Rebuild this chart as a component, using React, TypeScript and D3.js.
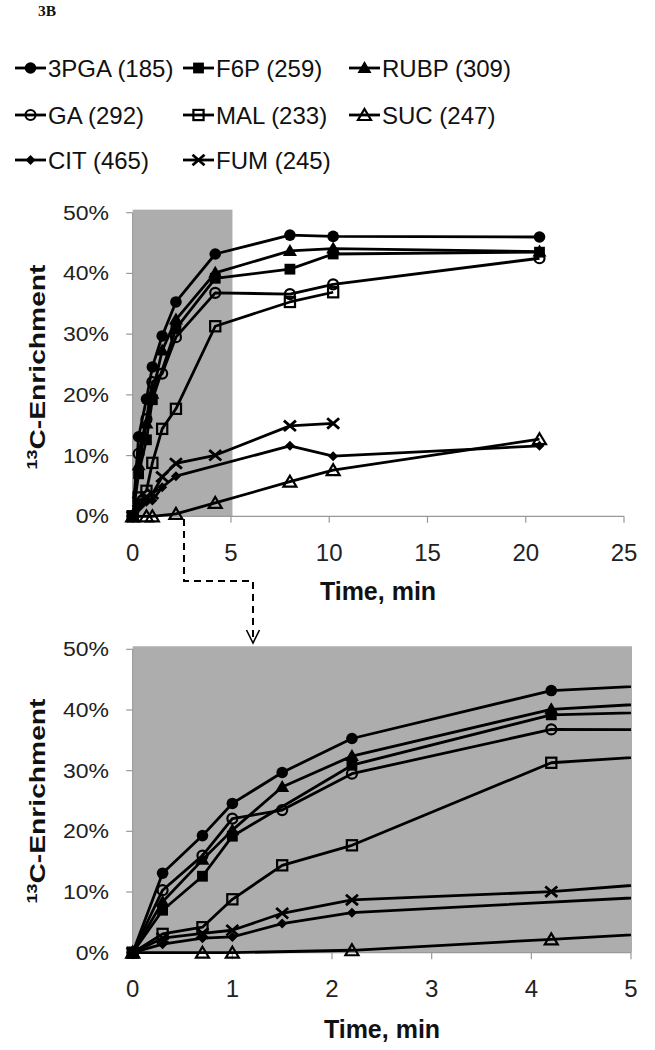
import React from "react";
import * as d3 from "d3";

const times = [0, 0.3, 0.7, 1.0, 1.5, 2.2, 4.2, 8, 10.2, 20.7];
const pga3 = [0, 13.1, 19.3, 24.6, 29.7, 35.3, 43.2, 46.3, 46.1, 46.0];
const f6p = [0, 7.0, 12.6, 19.2, null, 30.9, 39.2, 40.7, 43.2, 43.5];
const rubp = [0, 8.4, 15.3, 20.2, 27.3, 32.4, 40.1, 43.7, 44.1, 43.6];
const ga = [0, 10.3, 16.0, 22.1, 23.5, 29.5, 36.8, 36.6, 38.2, 42.5];
const mal = [0, 3.1, 4.2, 8.8, 14.4, 17.7, 31.3, 35.3, 36.9, null];
const suc = [0, null, 0, 0, null, 0.4, 2.2, 5.7, 7.6, 12.7];
const cit = [0, 1.4, 2.4, 2.6, 4.8, 6.6, null, 11.6, 9.9, 11.6];
const fum = [0, 2.4, 3.2, 3.7, 6.5, 8.7, 10.05, 14.9, 15.3, null];

const seriesNames = ["3PGA (185)", "F6P (259)", "RUBP (309)", "GA (292)", "MAL (233)", "SUC (247)", "CIT (465)", "FUM (245)"];
const seriesValues = [pga3, f6p, rubp, ga, mal, suc, cit, fum];
const seriesMarkers = ["circleF", "squareF", "triF", "circleO", "squareO", "triO", "diamond", "x"];

const yTicks = [0, 10, 20, 30, 40, 50];
const xTicksTop = [0, 5, 10, 15, 20, 25];
const xTicksBot = [0, 1, 2, 3, 4, 5];

const FONT = "'Liberation Sans', Arial, sans-serif";
const GRAY_BG = "#adadad";
const AXIS = "#999";

function Marker({ type, x, y }: { type: string; x: number; y: number }) {
  switch (type) {
    case "circleF":
      return <circle cx={x} cy={y} r={5.8} fill="#000" />;
    case "circleO":
      return <circle cx={x} cy={y} r={5} fill="none" stroke="#000" strokeWidth={2.2} />;
    case "squareF":
      return <rect x={x - 5.4} y={y - 5.4} width={10.8} height={10.8} fill="#000" />;
    case "squareO":
      return <rect x={x - 5.1} y={y - 5.1} width={10.2} height={10.2} fill="none" stroke="#000" strokeWidth={2.2} />;
    case "triF":
      return <path d={`M${x},${y - 7}L${x + 7},${y + 5}L${x - 7},${y + 5}Z`} fill="#000" />;
    case "triO":
      return <path d={`M${x},${y - 6}L${x + 6.5},${y + 5}L${x - 6.5},${y + 5}Z`} fill="none" stroke="#000" strokeWidth={2.2} strokeLinejoin="miter" />;
    case "diamond":
      return <path d={`M${x},${y - 5}L${x + 5},${y}L${x},${y + 5}L${x - 5},${y}Z`} fill="#000" />;
    case "x":
      return (
        <path d={`M${x - 6},${y - 5.2}L${x + 6},${y + 5.2}M${x - 6},${y + 5.2}L${x + 6},${y - 5.2}`} stroke="#000" strokeWidth={2.8} fill="none" />
      );
  }
  return null;
}

function YTickLabel({ x, y, label }: { x: number; y: number; label: string }) {
  const fs = 19.5;
  const digits = label.length - 1;
  const natural = (digits * 0.556 + 0.889) * fs;
  return (
    <text x={x} y={y + 7} fontSize={fs} fontFamily={FONT} textAnchor="end" fill="#222" textLength={natural * 1.18} lengthAdjust="spacingAndGlyphs">
      {label}
    </text>
  );
}

function YTitle({ x, y }: { x: number; y: number }) {
  return (
    <text transform={`translate(${x},${y}) rotate(-90)`} fontFamily={FONT} fontWeight="bold" fontSize={22} textAnchor="middle" fill="#111" textLength={205} lengthAdjust="spacingAndGlyphs">
      <tspan fontSize={14} dy={-8}>13</tspan>
      <tspan dy={8}>C-Enrichment</tspan>
    </text>
  );
}

function Chart({ x, y, xTicks, bg, clipId, xMax, gray }: any) {
  const pts = (vals: (number | null)[]) =>
    times.map((t, i) => ({ t, v: vals[i] })).filter((p) => p.v !== null && p.v !== undefined) as { t: number; v: number }[];
  const line = d3.line<{ t: number; v: number }>().x((p) => x(p.t)).y((p) => y(p.v));
  const [x0, x1] = x.range();
  const y0 = y(0);
  const yTop = y(50.5);
  return (
    <g>
      {bg && <rect x={x0} y={yTop} width={x(xMax) - x0 + 1} height={y0 - yTop} fill={GRAY_BG} />}
      {gray && <rect x={x0} y={yTop} width={x(gray) - x0 + 1.5} height={y0 - yTop} fill={GRAY_BG} />}
      <defs>
        <clipPath id={clipId}>
          <rect x={x0} y={yTop - 2} width={x(xMax) - x0} height={y0 - yTop + 4} />
        </clipPath>
      </defs>
      <line x1={x0} x2={x0} y1={y(50)} y2={y0} stroke={AXIS} strokeWidth={1.2} />
      <line x1={x0} x2={x1} y1={y0} y2={y0} stroke={AXIS} strokeWidth={1.2} />
      {yTicks.map((t) => (
        <g key={"y" + t}>
          <line x1={x0 - 6.5} x2={x0} y1={y(t)} y2={y(t)} stroke={AXIS} strokeWidth={1.2} />
          <YTickLabel x={109} y={y(t)} label={`${t}%`} />
        </g>
      ))}
      {xTicks.map((t: number) => (
        <g key={"x" + t}>
          <line x1={x(t)} x2={x(t)} y1={y0} y2={y0 + 6.5} stroke={AXIS} strokeWidth={1.2} />
          <text x={x(t)} y={y0 + 44.5} fontSize={24} fontFamily={FONT} textAnchor="middle" fill="#222">
            {t}
          </text>
        </g>
      ))}
      <g clipPath={`url(#${clipId})`}>
        {seriesValues.map((vals, i) => (
          <path key={"l" + i} d={line(pts(vals)) || ""} fill="none" stroke="#000" strokeWidth={2.8} strokeLinejoin="round" />
        ))}
      </g>
      {seriesValues.map((vals, i) =>
        pts(vals)
          .filter((p) => p.t <= xMax)
          .map((p, j) => <Marker key={`m${i}-${j}`} type={seriesMarkers[i]} x={x(p.t)} y={y(p.v)} />)
      )}
    </g>
  );
}

export default function App() {
  const xTop = d3.scaleLinear().domain([0, 25]).range([132.7, 624]);
  const yTopS = d3.scaleLinear().domain([0, 50]).range([516.3, 212.7]);
  const xBot = d3.scaleLinear().domain([0, 5]).range([132.7, 631]);
  const yBot = d3.scaleLinear().domain([0, 50]).range([952.7, 649.3]);

  const legendCols = [15, 183, 349];
  const legendRows = [68, 115, 160];

  return (
    <svg width={655} height={1050} style={{ position: "absolute", left: 0, top: 0, background: "#fff" }}>
      <rect width={655} height={1050} fill="#fff" />
      <text x={38} y={16} fontFamily="'Liberation Serif', 'Times New Roman', serif" fontWeight="bold" fontSize={15.5} fill="#111">
        3B
      </text>
      {seriesNames.map((name, i) => {
        const cx = legendCols[i % 3];
        const cy = legendRows[Math.floor(i / 3)];
        return (
          <g key={"lg" + i}>
            <line x1={cx} x2={cx + 31} y1={cy} y2={cy} stroke="#000" strokeWidth={2.8} />
            <Marker type={seriesMarkers[i]} x={cx + 15.5} y={cy} />
            <text x={cx + 33} y={cy + 8.5} fontSize={24} fontFamily={FONT} fill="#111">
              {name}
            </text>
          </g>
        );
      })}

      <Chart x={xTop} y={yTopS} xTicks={xTicksTop} bg={false} gray={5} clipId="clipTop" xMax={25} />
      <text x={378} y={600} fontSize={25} fontWeight="bold" fontFamily={FONT} textAnchor="middle" fill="#111">
        Time, min
      </text>
      <YTitle x={45} y={367} />

      <path d="M184,519 V581 H253 V641" fill="none" stroke="#000" strokeWidth={2} strokeDasharray="7,5" />
      <path d="M246.5,630 L253,643 L259.5,630" fill="none" stroke="#000" strokeWidth={1.6} />

      <Chart x={xBot} y={yBot} xTicks={xTicksBot} bg={true} gray={null} clipId="clipBot" xMax={5} />
      <text x={382} y={1038} fontSize={25} fontWeight="bold" fontFamily={FONT} textAnchor="middle" fill="#111">
        Time, min
      </text>
      <YTitle x={45} y={801} />
    </svg>
  );
}
